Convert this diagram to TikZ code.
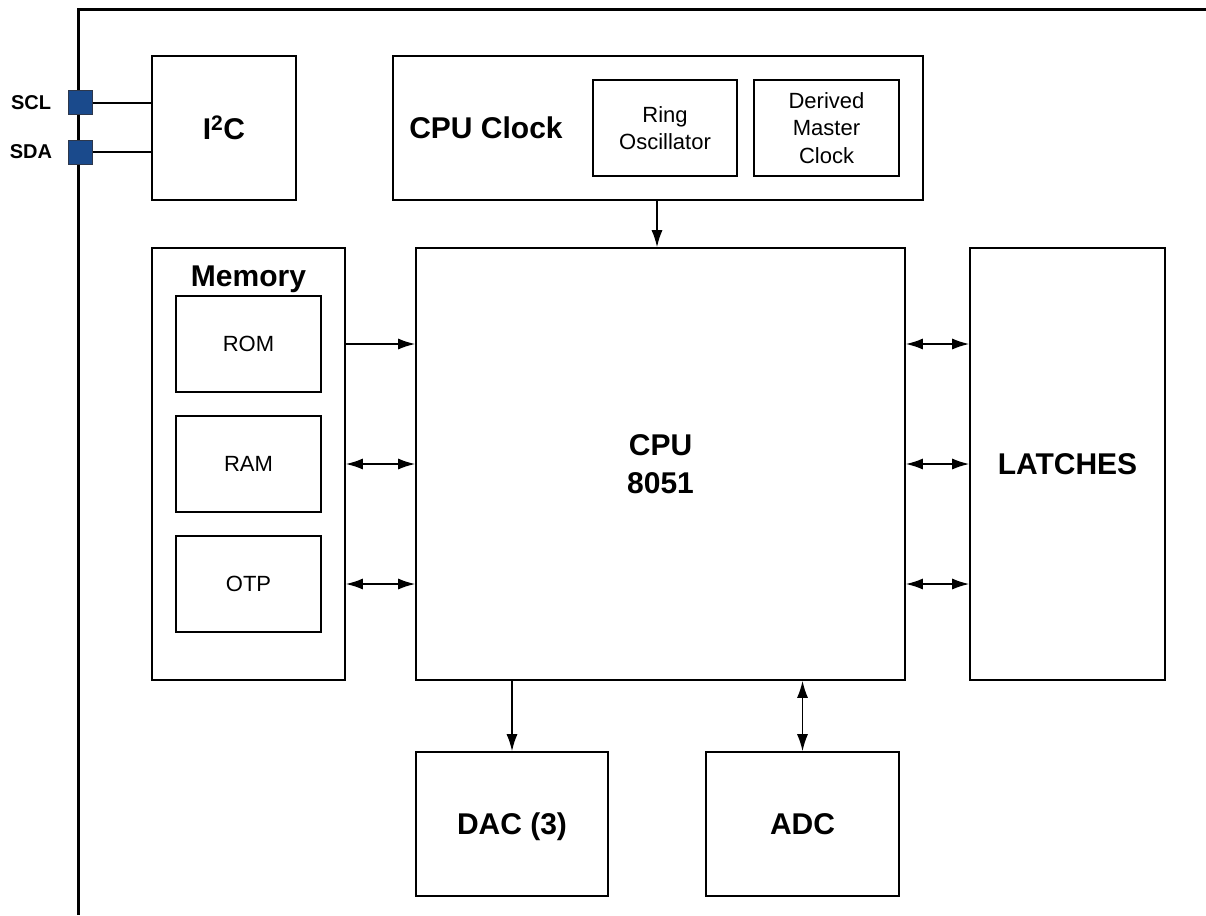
\documentclass[tikz,border=0pt]{standalone}
\usepackage{fontspec}
\setmainfont{Liberation Sans}
\usetikzlibrary{arrows.meta,positioning}
\definecolor{pinblue}{RGB}{26,74,140}
\definecolor{pinedge}{RGB}{45,55,75}

\begin{document}
\begin{tikzpicture}[x=1pt,y=-1pt]
\tikzstyle{block} = [rectangle, draw, line width=1.6pt, inner sep=0pt, align=center,
font=\fontsize{30}{38}\selectfont\bfseries]
\tikzstyle{sub} = [rectangle, draw, line width=1.6pt, inner sep=0pt, align=center,
minimum width=145pt, minimum height=96pt, font=\fontsize{22}{27.5}\selectfont]
\tikzstyle{title} = [inner sep=0pt, font=\fontsize{30}{38}\selectfont\bfseries]
\tikzstyle{pin} = [rectangle, draw=pinedge, fill=pinblue, line width=1pt,
minimum size=24pt, inner sep=0pt]
\tikzstyle{pinname} = [inner sep=0pt, font=\fontsize{20}{24}\selectfont\bfseries]
\tikzstyle{wire} = [draw, line width=1.5pt]
\tikzstyle{line} = [draw, line width=1.5pt, -{Latex[length=17pt,width=11pt]}]
\tikzstyle{both} = [draw, line width=1.5pt, {Latex[length=17pt,width=11pt]}-{Latex[length=17pt,width=11pt]}]

\useasboundingbox (0,0) rectangle (1206,915);

% chip edge
\coordinate (edgeR) at (1206,10);
\coordinate (edgeC) at (78,10);
\coordinate (edgeB) at (78,915);
\draw[line width=3pt] (edgeR) -- (edgeC) -- (edgeB);

% top row
\node [block, minimum width=144pt, minimum height=144pt] (i2c) at (224,128) {I\textsuperscript{2}C};
\node [block, minimum width=530pt, minimum height=144pt] (clk) at (658,128) {};
\node [title] (clklbl) at (486,128) {CPU Clock};
\node [sub, minimum width=144pt] (ring) at (665,128) {Ring\\Oscillator};
\node [sub] (dmc) at (826.5,128) {Derived\\Master\\Clock};

% pins
\node [pin] (scl) at (80,103) {};
\node [pin] (sda) at (80,152) {};
\node [pinname] (scllbl) at (31,103) {SCL};
\node [pinname] (sdalbl) at (31,152) {SDA};

% middle row
\node [block, minimum width=193pt, minimum height=432pt] (mem) at (248.5,464) {};
\node [title] (memlbl) at (248.5,279) {Memory};
\node [sub] (rom) at (248.5,344) {ROM};
\node [sub] (ram) at (248.5,464) {RAM};
\node [sub] (otp) at (248.5,584) {OTP};
\node [block, minimum width=489pt, minimum height=432pt] (cpu) at (660.5,464) {CPU\\8051};
\node [block, minimum width=195pt, minimum height=432pt] (latch) at (1067.5,464) {LATCHES};

% bottom row
\node [block, minimum width=192pt, minimum height=144pt, text depth=0pt] (dac) at (512,824) {DAC (3)};
\node [block, minimum width=193pt, minimum height=144pt] (adc) at (802.5,824) {ADC};

\path [wire] (scl.east) -- (i2c.west |- scl);
\path [wire] (sda.east) -- (i2c.west |- sda);
\path [line] (clk.south -| 657,0) -- (cpu.north -| 657,0);
\path [line] (mem.east |- rom) -- (cpu.west |- rom);
\path [both] (mem.east |- ram) -- (cpu.west |- ram);
\path [both] (mem.east |- otp) -- (cpu.west |- otp);
\path [both] (cpu.east |- rom) -- (latch.west |- rom);
\path [both] (cpu.east |- ram) -- (latch.west |- ram);
\path [both] (cpu.east |- otp) -- (latch.west |- otp);
\path [line] (cpu.south -| dac) -- (dac.north);
\path [both] (cpu.south -| adc) -- (adc.north);

\end{tikzpicture}
\end{document}
